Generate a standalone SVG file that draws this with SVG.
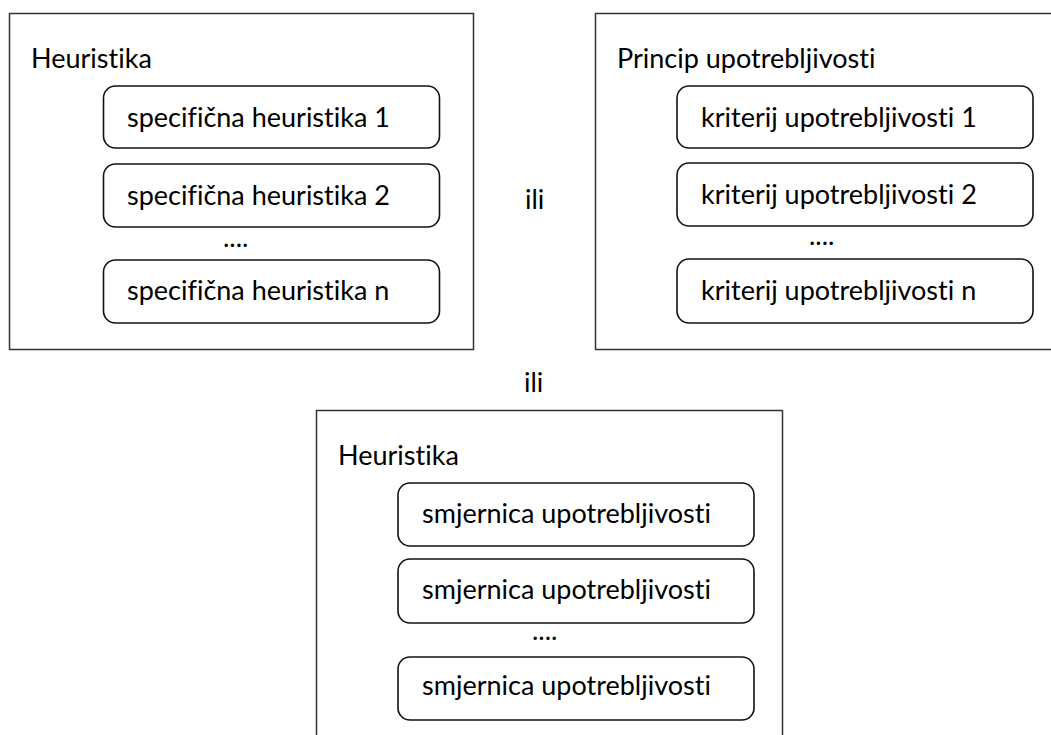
<svg xmlns="http://www.w3.org/2000/svg" width="1051" height="735" viewBox="0 0 1051 735">
<style>
.outer{fill:#fff;stroke:#333;stroke-width:1.5}
.inner{fill:#fff;stroke:#111;stroke-width:1.6}
text{font-family:Lato,"Open Sans","Liberation Sans",sans-serif;font-size:27px;fill:#000;font-variant-ligatures:none;font-feature-settings:"liga" 0,"clig" 0}
</style>
<rect width="1051" height="735" fill="#fff"/>
<g id="box1">
<rect class="outer" x="9.5" y="13.5" width="464" height="336"/>
<text x="31" y="68">Heuristika</text>
<rect class="inner" x="103.5" y="86" width="336" height="62" rx="12"/>
<text x="127" y="127">specifična heuristika 1</text>
<rect class="inner" x="103.5" y="164" width="336" height="63" rx="12"/>
<text x="127" y="205">specifična heuristika 2</text>
<text x="223" y="247">....</text>
<rect class="inner" x="103.5" y="260" width="336" height="63" rx="12"/>
<text x="127" y="300">specifična heuristika n</text>
</g>
<g id="box2">
<rect class="outer" x="595.5" y="13.5" width="470" height="336"/>
<text x="617" y="68">Princip upotrebljivosti</text>
<rect class="inner" x="677" y="86" width="356" height="62" rx="12"/>
<text x="701" y="127">kriterij upotrebljivosti 1</text>
<rect class="inner" x="677" y="163" width="356" height="63" rx="12"/>
<text x="701" y="204">kriterij upotrebljivosti 2</text>
<text x="809" y="245">....</text>
<rect class="inner" x="677" y="259" width="356" height="64" rx="12"/>
<text x="701" y="300">kriterij upotrebljivosti n</text>
</g>
<g id="box3">
<rect class="outer" x="316.5" y="410.5" width="466" height="340"/>
<text x="338" y="465">Heuristika</text>
<rect class="inner" x="398" y="483" width="356" height="63" rx="12"/>
<text x="422" y="523">smjernica upotrebljivosti</text>
<rect class="inner" x="398" y="559" width="356" height="64" rx="12"/>
<text x="422" y="599">smjernica upotrebljivosti</text>
<text x="532" y="640">....</text>
<rect class="inner" x="398" y="657" width="356" height="63" rx="12"/>
<text x="422" y="695">smjernica upotrebljivosti</text>
</g>
<g id="connectors">
<text x="525" y="209">ili</text>
<text x="524" y="392">ili</text>
</g>
</svg>
